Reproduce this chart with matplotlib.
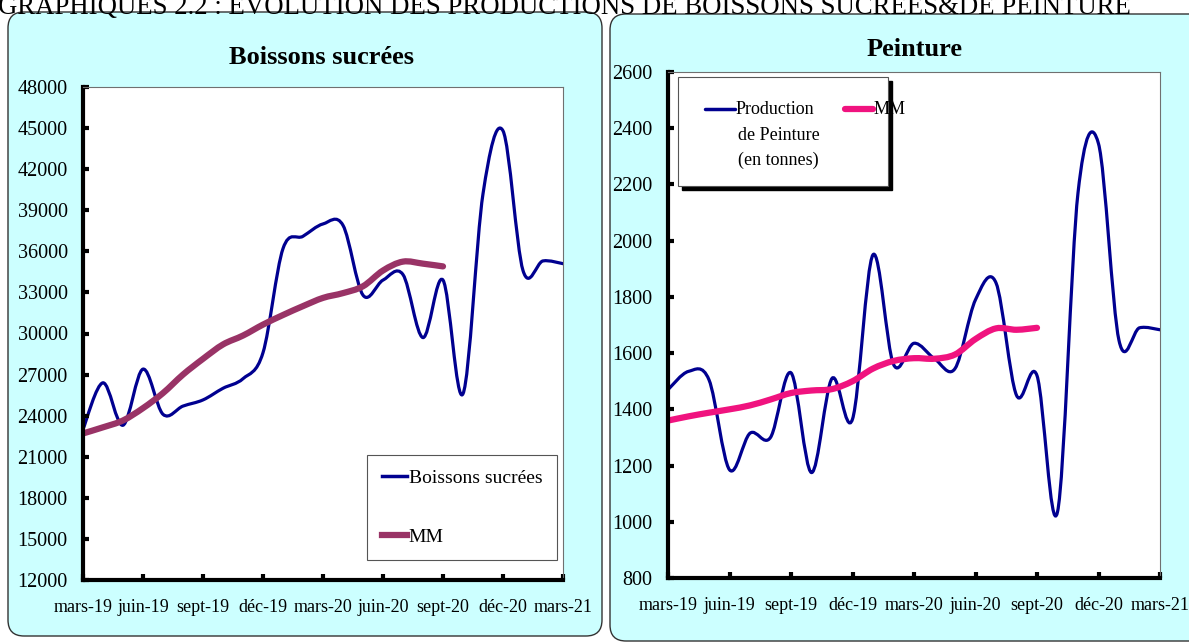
import matplotlib
matplotlib.use("Agg")
import matplotlib.pyplot as plt
from matplotlib.path import Path
from matplotlib.patches import PathPatch, FancyBboxPatch, Rectangle
from matplotlib.lines import Line2D

W, H = 1189, 644

# monthly data, mars-19 .. mars-21
tick_labels = ["mars-19", "juin-19", "sept-19", "déc-19", "mars-20",
               "juin-20", "sept-20", "déc-20", "mars-21"]

boissons = [23000, 26400, 23300, 27400, 24100, 24700, 25150, 26000, 26700,
            28600, 36200, 37100, 38000, 37900, 32800, 33900, 34300, 29700,
            33900, 25600, 40200, 44800, 34600, 35300, 35100]
mm_boissons = [22700, 23150, 23650, 24550, 25650, 27000, 28150, 29200, 29850,
               30650, 31350, 32000, 32600, 32950, 33450, 34600, 35250, 35100,
               34900]

peinture = [1470, 1535, 1505, 1185, 1315, 1300, 1530, 1175, 1510, 1365,
            1950, 1560, 1635, 1580, 1545, 1790, 1850, 1450, 1520, 1035,
            2170, 2345, 1645, 1690, 1683]
mm_peinture = [1360, 1375, 1388, 1400, 1414, 1435, 1458, 1467, 1472, 1500,
               1545, 1572, 1582, 1580, 1595, 1650, 1688, 1683, 1690]

BLUE = "#000090"
PLUM = "#993366"
PINK = "#F0137F"

plt.rcParams['font.family'] = ['Liberation Serif', 'DejaVu Serif']

fig = plt.figure(figsize=(W / 100, H / 100), dpi=100)
fig.patch.set_facecolor("white")


def panel(x0, y0, x1, y1):
    p = FancyBboxPatch((x0 / 100, (H - y1) / 100), (x1 - x0) / 100, (y1 - y0) / 100,
                       boxstyle="round,pad=0,rounding_size=0.16",
                       transform=fig.dpi_scale_trans, facecolor="#CCFFFF",
                       edgecolor="#333333", lw=1, zorder=-5)
    fig.add_artist(p)


def add_ax(x0, y0, x1, y1):
    return fig.add_axes([x0 / W, 1 - y1 / H, (x1 - x0) / W, (y1 - y0) / H])


def smooth(ax, y, color, lw):
    # Excel-like smoothed line: cubic bezier through each point
    x = list(range(len(y)))
    n = len(y)
    verts = [(x[0], y[0])]
    codes = [Path.MOVETO]
    for i in range(n - 1):
        a = max(i - 1, 0)
        b = min(i + 2, n - 1)
        c1 = (x[i] + (x[i + 1] - x[a]) / 6, y[i] + (y[i + 1] - y[a]) / 6)
        c2 = (x[i + 1] - (x[b] - x[i]) / 6, y[i + 1] - (y[b] - y[i]) / 6)
        verts += [c1, c2, (x[i + 1], y[i + 1])]
        codes += [Path.CURVE4] * 3
    ax.add_patch(PathPatch(Path(verts, codes), facecolor="none", edgecolor=color,
                           lw=lw, capstyle="round", joinstyle="round"))


def style(ax, ymin, ymax, ystep):
    ax.set_xlim(0, 24)
    ax.set_ylim(ymin, ymax)
    ax.set_xticks(range(0, 25, 3))
    ax.set_xticklabels(tick_labels)
    ax.set_yticks(range(ymin, ymax + 1, ystep))
    for s in ["left", "bottom"]:
        ax.spines[s].set_linewidth(3)
        ax.spines[s].set_color("black")
    for s in ["top", "right"]:
        ax.spines[s].set_linewidth(0.8)
        ax.spines[s].set_color("#707070")
    ax.tick_params(direction="in", length=4, width=3, labelsize=14.5)
    ax.tick_params(axis="x", pad=14, labelsize=13)
    ax.tick_params(axis="y", pad=11)


panel(8, 12, 602, 636)
panel(610, 14, 1215, 641)

fig.text(-2 / W, 1 - 14 / H, "GRAPHIQUES 2.2 : EVOLUTION DES PRODUCTIONS DE BOISSONS SUCREES&DE PEINTURE",
         ha="left", va="baseline", fontsize=19.3)

# left chart
ax1 = add_ax(83, 87, 563, 580)
style(ax1, 12000, 48000, 3000)
smooth(ax1, boissons, BLUE, 2.3)
smooth(ax1, mm_boissons, PLUM, 4.5)
fig.text(322 / W, 1 - 58 / H, "Boissons sucrées", ha="center", va="center",
         fontsize=19, fontweight="bold")
h1 = [Line2D([], [], color=BLUE, lw=2.5), Line2D([], [], color=PLUM, lw=4.5)]
leg = ax1.legend(h1, ["Boissons sucrées", "MM"], loc="lower right",
                 bbox_to_anchor=(0.9875, 0.04), fancybox=False, framealpha=1,
                 edgecolor="#555555", borderaxespad=0, handlelength=1.3,
                 handletextpad=0.1, labelspacing=2.1, borderpad=0.75, fontsize=14)
leg.get_frame().set_linewidth(0.8)

# right chart
ax2 = add_ax(668, 72, 1160, 578)
style(ax2, 800, 2600, 200)
smooth(ax2, peinture, BLUE, 2.3)
smooth(ax2, mm_peinture, PINK, 4.5)
fig.text(915 / W, 1 - 50 / H, "Peinture", ha="center", va="center",
         fontsize=19, fontweight="bold")


def ax2_pt(px, py):
    return (px - 668) / 492, (578 - py) / 506


# legend box with black shadow
sx, sy = ax2_pt(682, 190)
ax2.add_patch(Rectangle((sx, sy), 210 / 492, 109 / 506, transform=ax2.transAxes,
                        facecolor="black", edgecolor="black", zorder=5))
bx, by = ax2_pt(678, 186)
ax2.add_patch(Rectangle((bx, by), 210 / 492, 109 / 506, transform=ax2.transAxes,
                        facecolor="white", edgecolor="#555555", lw=0.8, zorder=6))
for (xa, xb), col, lw in [((705, 735), BLUE, 2.5), ((845, 873), PINK, 4.5)]:
    p0 = ax2_pt(xa, 109)
    p1 = ax2_pt(xb, 109)
    ax2.plot([p0[0], p1[0]], [p0[1], p1[1]], color=col, lw=lw,
             solid_capstyle="round", transform=ax2.transAxes, zorder=7)
tx, ty = ax2_pt(736, 109)
ax2.text(tx, ty, "Production", transform=ax2.transAxes, ha="left", va="center",
         fontsize=13, zorder=7)
tx, ty = ax2_pt(738, 135)
ax2.text(tx, ty, "de Peinture", transform=ax2.transAxes, ha="left", va="center",
         fontsize=13, zorder=7)
tx, ty = ax2_pt(738, 160)
ax2.text(tx, ty, "(en tonnes)", transform=ax2.transAxes, ha="left", va="center",
         fontsize=13, zorder=7)
tx, ty = ax2_pt(874, 109)
ax2.text(tx, ty, "MM", transform=ax2.transAxes, ha="left", va="center",
         fontsize=13, zorder=7)

fig.savefig("out.png", dpi=100)
